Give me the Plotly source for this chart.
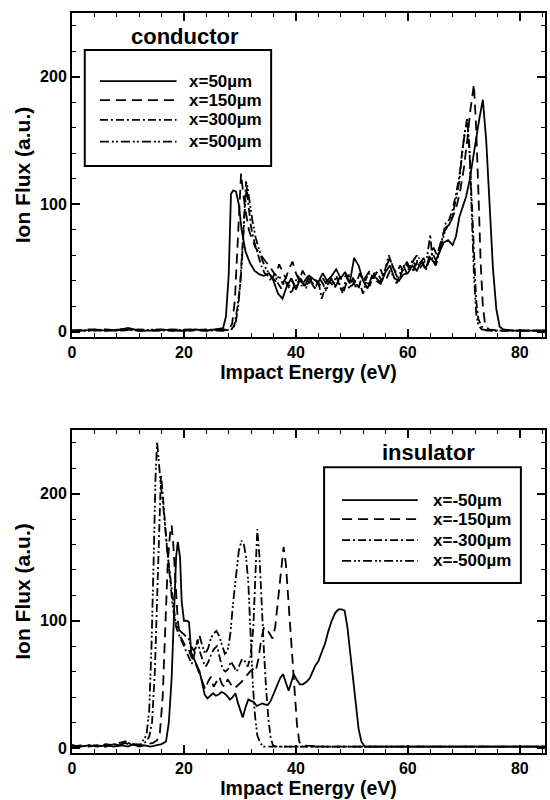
import plotly.graph_objects as go

# ---------------- data ----------------
conductor_labels = ["x=50\u00b5m", "x=150\u00b5m", "x=300\u00b5m", "x=500\u00b5m"]
insulator_labels = ["x=-50\u00b5m", "x=-150\u00b5m", "x=-300\u00b5m", "x=-500\u00b5m"]

c50 = [(0,1),(2,1),(4,2),(6,1),(8,1),(10,3),(12,1),(14,1),(16,2),(18,1),(20,1),(22,2),(24,1),(26,2),(27,3),
       (27.5,12),(28,45),(28.4,108),(28.8,111),(29.3,110),(29.8,100),(30.3,80),(31,63),(31.8,54),(32.6,48),
       (33.5,45),(34.3,44),(35.2,46),(36,40),(36.8,30),(37.6,26),(38.4,36),(39.2,42),(40,33),(40.8,42),
       (41.6,36),(42.4,44),(43.2,41),(44,39),(44.8,46),(45.6,40),(46.4,44),(47.2,49),(48,42),(48.8,47),
       (49.6,38),(50.4,58),(51.2,52),(52,40),(52.8,34),(53.6,44),(54.4,42),(55.2,38),(56,47),(56.8,52),
       (57.6,42),(58.4,40),(59.2,45),(60,46),(60.8,52),(61.6,48),(62.4,55),(63.2,50),(64,58),(64.8,54),
       (65.6,62),(66.4,70),(67.2,72),(68,68),(68.6,75),(69.2,90),(69.8,98),(70.4,106),(71,118),(71.6,135),
       (72.2,150),(72.8,168),(73.4,182),(74,150),(74.6,100),(75.2,50),(75.8,18),(76.4,4),(77,2),(79,1),
       (81,1),(84.5,1)]

c150 = [(0,1),(3,2),(6,1),(9,2),(12,1),(15,1),(18,2),(21,1),(24,1),(27,2),(28,2),(28.6,6),(29.1,25),
        (29.6,70),(30.0,110),(30.2,124),(30.6,108),(31,95),(31.6,80),(32.2,72),(32.8,66),(33.4,62),(34,58),
        (34.6,55),(35.2,52),(35.8,48),(36.4,44),(37,53),(37.6,48),(38.2,42),(38.8,50),(39.4,55),(40,46),
        (40.6,40),(41.2,48),(41.8,43),(42.4,38),(43,44),(43.6,40),(44.2,36),(44.8,42),(45.4,38),(46,44),
        (46.6,39),(47.2,35),(47.8,43),(48.4,40),(49,45),(49.6,37),(50.2,42),(50.8,38),(51.4,46),(52,40),
        (52.6,44),(53.2,48),(53.8,42),(54.4,46),(55,50),(55.6,44),(56.2,52),(56.8,58),(57.4,50),(58,46),
        (58.6,52),(59.2,48),(59.8,55),(60.4,50),(61,56),(61.6,60),(62.2,54),(62.8,58),(63.4,52),(64,62),
        (64.6,66),(65.2,60),(65.8,70),(66.4,78),(67,82),(67.6,86),(68.2,92),(68.8,100),(69.4,112),(70,128),
        (70.6,150),(71.2,175),(71.8,194),(72.2,160),(72.6,110),(73,55),(73.4,20),(73.8,6),(74.4,2),(76,1),
        (79,1),(82,1),(84.5,1)]

c300 = [(0,1),(3,1),(6,2),(9,1),(12,2),(15,1),(18,1),(21,2),(24,1),(27,1),(28.5,2),(29,5),(29.5,18),(30,35),
        (30.5,70),(30.8,100),(31.1,118),(31.5,100),(32,82),(32.6,70),(33.2,60),(33.8,52),(34.4,46),(35,44),
        (35.6,40),(36.2,46),(36.8,38),(37.4,34),(38,40),(38.6,36),(39.2,30),(39.8,38),(40.4,44),(41,36),
        (41.6,40),(42.2,44),(42.8,38),(43.4,34),(44,40),(44.6,26),(45.2,34),(45.8,38),(46.4,42),(47,35),
        (47.6,40),(48.2,32),(48.8,38),(49.4,45),(50,36),(50.6,40),(51.2,34),(51.8,44),(52.4,40),(53,46),
        (53.6,42),(54.2,48),(54.8,44),(55.4,40),(56,50),(56.6,60),(57.2,52),(57.8,46),(58.4,40),(59,48),
        (59.6,54),(60.2,50),(60.8,56),(61.4,52),(62,58),(62.6,54),(63.2,48),(63.8,56),(64.4,62),(65,56),
        (65.6,64),(66.2,74),(66.8,86),(67.4,88),(68,96),(68.6,108),(69.2,122),(69.8,145),(70.3,160),(70.6,168),
        (71,142),(71.4,100),(71.8,55),(72.2,25),(72.6,10),(73.2,4),(74,1),(77,1),(80,1),(84.5,1)]

c500 = [(0,1),(3,1),(6,1),(9,2),(12,1),(15,2),(18,1),(21,1),(24,2),(27,1),(28.5,2),(29.2,6),(29.7,20),
        (30.2,45),(30.6,80),(31,105),(31.3,115),(31.7,102),(32.2,88),(32.8,74),(33.4,64),(34,56),(34.6,50),
        (35.2,46),(35.8,42),(36.4,40),(37,44),(37.6,38),(38.2,42),(38.8,36),(39.4,40),(40,34),(40.6,42),
        (41.2,38),(41.8,34),(42.4,42),(43,38),(43.6,36),(44.2,42),(44.8,38),(45.4,32),(46,40),(46.6,36),
        (47.2,44),(47.8,36),(48.4,30),(49,38),(49.6,34),(50.2,40),(50.8,34),(51.4,38),(52,30),(52.6,40),
        (53.2,36),(53.8,44),(54.4,40),(55,38),(55.6,46),(56.2,42),(56.8,48),(57.4,44),(58,38),(58.6,46),
        (59.2,52),(59.8,46),(60.4,52),(61,48),(61.6,56),(62.2,50),(62.8,54),(63.4,58),(64,76),(64.4,56),
        (65,52),(65.6,62),(66.2,72),(66.8,82),(67.4,84),(68,92),(68.6,104),(69.2,118),(69.7,140),(70.2,158),
        (70.6,164),(71,145),(71.4,95),(71.8,45),(72.2,15),(72.6,5),(73.2,2),(75,1),(78,1),(81,1),(84.5,1)]

i50 = [(0,2),(1.5,1),(3,2),(4.5,1),(6,2),(7.5,1),(9,2),(10,1),(11,3),(12,1),(13,2),(14,1),(15,2),(16,3),
       (16.8,5),(17.3,20),(17.8,55),(18.2,110),(18.6,150),(18.9,162),(19.3,150),(19.6,115),(20,100),(20.5,100),
       (20.9,99),(21.3,75),(21.8,70),(22.3,65),(22.8,60),(23.3,50),(23.7,42),(24.2,39),(24.7,41),(25.2,43),
       (25.7,41),(26.2,42),(26.7,44),(27.2,43),(27.7,41),(28.2,38),(28.7,40),(29.2,43),(29.6,36),(30,30),
       (30.5,24),(31,32),(31.5,38),(32,37),(32.5,36),(33,33),(33.5,34),(34,35),(34.5,34),(35,34),(35.5,37),
       (36,42),(36.6,49),(37.2,55),(37.7,58),(38.2,52),(38.7,45),(39.2,52),(39.6,58),(40.1,54),(40.7,50),
       (41.3,50),(41.9,52),(42.5,55),(43,60),(43.5,65),(44,68),(44.6,75),(45.2,82),(45.8,92),(46.4,100),
       (47,106),(47.6,109),(48.2,109),(48.7,108),(49.2,95),(49.7,75),(50.2,55),(50.7,35),(51.2,15),(51.7,5),
       (52.3,1),(55,1),(60,1),(65,1),(70,1),(75,1),(80,1),(84.5,1)]

i150 = [(0,1),(1.5,2),(3,1),(4.5,2),(6,1),(7.5,3),(8.5,2),(9.5,4),(10.5,2),(11.5,3),(12.5,2),(13.5,3),
        (14.5,4),(15.2,6),(15.7,12),(16.2,40),(16.7,100),(17.1,145),(17.5,168),(17.8,175),(18.1,160),
        (18.5,125),(18.9,100),(19.3,88),(19.8,84),(20.3,80),(20.8,78),(21.3,72),(21.8,68),(22.3,64),(22.8,58),
        (23.3,52),(23.8,46),(24.3,52),(24.8,56),(25.3,48),(25.8,52),(26.3,56),(26.8,50),(27.3,48),(27.8,54),
        (28.3,50),(28.8,47),(29.3,48),(29.8,50),(30.3,52),(30.8,55),(31.3,58),(31.8,60),(32.3,62),(32.8,60),
        (33.3,70),(33.8,85),(34.3,95),(34.8,93),(35.3,90),(35.8,86),(36.3,95),(36.8,118),(37.3,140),(37.8,158),
        (38.2,145),(38.6,120),(39,92),(39.4,65),(39.8,38),(40.2,18),(40.6,5),(41,2),(45,1),(50,1),(55,1),
        (60,1),(65,1),(70,1),(75,1),(80,1),(84.5,1)]

i300 = [(0,2),(1.5,1),(3,2),(4.5,1),(6,3),(7.5,2),(8.5,4),(9.5,5),(10.5,3),(11.5,2),(12.5,3),(13.3,5),
        (13.8,9),(14.3,20),(14.8,60),(15.2,120),(15.6,190),(15.9,215),(16.2,200),(16.6,175),(17,155),
        (17.4,140),(17.8,125),(18.2,110),(18.6,95),(19,90),(19.4,86),(19.9,80),(20.4,75),(20.9,70),(21.4,66),
        (21.9,74),(22.4,85),(22.9,75),(23.4,68),(23.9,64),(24.4,68),(24.9,74),(25.4,78),(25.9,80),(26.4,72),
        (26.9,62),(27.4,60),(27.9,62),(28.4,68),(28.9,64),(29.4,60),(29.9,65),(30.4,70),(30.9,68),(31.4,64),
        (31.9,72),(32.4,95),(32.8,140),(33.1,172),(33.5,150),(33.9,110),(34.3,75),(34.7,45),(35.1,22),
        (35.5,8),(35.9,2),(36.5,1),(40,1),(45,1),(50,1),(55,1),(60,1),(65,1),(70,1),(75,1),(80,1),(84.5,1)]

i500 = [(0,2),(1.5,1),(3,2),(4.5,2),(6,1),(7.5,3),(8.5,2),(9.5,5),(10.5,3),(11.5,2),(12.3,3),(12.8,6),
        (13.3,10),(13.8,30),(14.2,80),(14.6,150),(14.9,210),(15.2,241),(15.5,225),(15.9,205),(16.3,190),
        (16.7,170),(17.1,150),(17.5,130),(17.9,115),(18.3,102),(18.8,95),(19.3,92),(19.8,90),(20.3,88),
        (20.8,86),(21.3,80),(21.8,76),(22.3,82),(22.8,88),(23.3,80),(23.8,74),(24.3,78),(24.8,86),(25.3,90),
        (25.8,92),(26.3,88),(26.8,80),(27.3,74),(27.8,76),(28.3,90),(28.8,115),(29.3,138),(29.8,155),
        (30.3,163),(30.7,160),(31.1,150),(31.5,130),(31.9,90),(32.3,50),(32.7,25),(33.1,10),(33.6,4),(34.2,1),
        (36,1),(40,1),(45,1),(50,1),(55,1),(60,1),(65,1),(70,1),(75,1),(80,1),(84.5,1)]

conductor_series = [c50, c150, c300, c500]
insulator_series = [i50, i150, i300, i500]

# ---------------- styles ----------------
dashes = ["solid", "10px,6px", "8px,3px,2px,3px", "9px,3px,2px,2px,2px,3px"]
FONT = "Liberation Sans"

fig = go.Figure()

for series, labels, xa, ya in [(conductor_series, conductor_labels, "x", "y"),
                               (insulator_series, insulator_labels, "x2", "y2")]:
    for pts, lab, d in zip(series, labels, dashes):
        fig.add_trace(go.Scatter(
            x=[p[0] for p in pts], y=[p[1] for p in pts], mode="lines", name=lab,
            line=dict(color="black", width=1.8, dash=d), xaxis=xa, yaxis=ya, showlegend=False))

axis_common = dict(
    showline=True, linewidth=2, linecolor="black", mirror="ticks",
    ticks="inside", ticklen=8, tickwidth=1.5, tickcolor="black",
    showgrid=False, zeroline=False,
    tickfont=dict(family=FONT, size=16, color="black", weight="bold"),
)
xcommon = dict(axis_common, range=[0, 84.5], tick0=0, dtick=20,
               minor=dict(dtick=4, ticks="inside", ticklen=4, tickwidth=1.2, tickcolor="black", showgrid=False),
               title=dict(text="Impact Energy (eV)", standoff=2,
                          font=dict(family=FONT, size=19.5, color="black", weight="bold")))
ycommon = dict(axis_common, range=[-4, 250], tick0=0, dtick=100,
               minor=dict(dtick=20, ticks="inside", ticklen=4, tickwidth=1.2, tickcolor="black", showgrid=False),
               title=dict(text="Ion Flux (a.u.)", standoff=4,
                          font=dict(family=FONT, size=21, color="black", weight="bold")))

fig.update_layout(
    width=550, height=800,
    margin=dict(l=72, r=3, t=13, b=47),
    paper_bgcolor="white", plot_bgcolor="white",
    xaxis=dict(xcommon, domain=[0, 1], anchor="y"),
    yaxis=dict(ycommon, domain=[0.5622, 1.0], anchor="x"),
    xaxis2=dict(xcommon, domain=[0, 1], anchor="y2"),
    yaxis2=dict(ycommon, domain=[0.0, 0.4365], anchor="x2"),
)

# ---------------- panel titles and legends ----------------
panels = [
    dict(xr="x domain", yr="y domain", title="conductor", tx=0.238, ty=0.927,
         box=(0.027, 0.528, 0.421, 0.886), rows=[0.790, 0.731, 0.670, 0.603],
         lx=(0.059, 0.221), tx0=0.244, labels=conductor_labels),
    dict(xr="x2 domain", yr="y2 domain", title="insulator", tx=0.754, ty=0.929,
         box=(0.533, 0.526, 0.949, 0.885), rows=[0.783, 0.724, 0.659, 0.595],
         lx=(0.571, 0.731), tx0=0.758, labels=insulator_labels),
]
for p in panels:
    fig.add_annotation(xref=p["xr"], yref=p["yr"], x=p["tx"], y=p["ty"], text="<b>%s</b>" % p["title"],
                       showarrow=False, font=dict(family=FONT, size=22, color="black"),
                       xanchor="center", yanchor="middle")
    x0, y0, x1, y1 = p["box"]
    fig.add_shape(type="rect", xref=p["xr"], yref=p["yr"], x0=x0, y0=y0, x1=x1, y1=y1,
                  line=dict(color="black", width=2), fillcolor="rgba(0,0,0,0)")
    for ry, lab, d in zip(p["rows"], p["labels"], dashes):
        fig.add_shape(type="line", xref=p["xr"], yref=p["yr"], x0=p["lx"][0], x1=p["lx"][1], y0=ry, y1=ry,
                      line=dict(color="black", width=1.8, dash=d))
        fig.add_annotation(xref=p["xr"], yref=p["yr"], x=p["tx0"], y=ry, text="<b>%s</b>" % lab,
                           showarrow=False, font=dict(family=FONT, size=17, color="black"),
                           xanchor="left", yanchor="middle")

fig.write_html("out.html")
